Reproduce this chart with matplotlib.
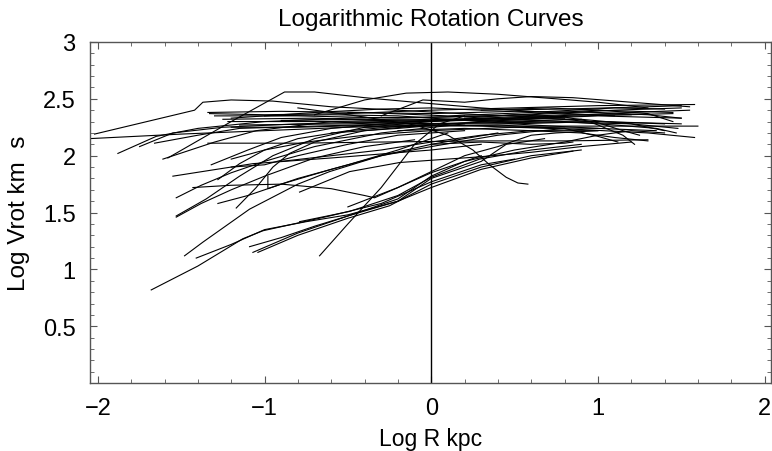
import numpy as np
import matplotlib.pyplot as plt
from matplotlib.ticker import MultipleLocator

plt.rcParams['font.family'] = ['Liberation Sans', 'DejaVu Sans']

# log R (kpc) and log Vrot (km/s) for each galaxy
curve_r = [
    [-2.02, -1.42, -1.37, -1.2, -0.95, -0.6, -0.2, 0.3, 0.8],
    [-2.05, -1.5, -1.0, -0.5, 0.0, 0.5, 1.0, 1.6],
    [-1.88, -1.65, -1.4, -1.0, -0.5, 0.0, 0.6, 1.1, 1.5],
    [-1.75, -1.55, -1.25, -0.8, -0.3, 0.3, 0.9, 1.45],
    [-1.66, -1.4, -1.15, -0.7, -0.2, 0.4, 1.0, 1.5],
    [-1.61, -1.3, -1.05, -0.6, 0.0, 0.6, 1.2, 1.48],
    [-1.58, -1.2, -0.88, -0.7, -0.4, -0.1, 0.3, 0.7, 1.1],
    [-0.7, -0.4, -0.15, 0.1, 0.4, 0.75, 1.0, 1.3],
    [-0.3, -0.05, 0.2, 0.4, 0.6, 0.85, 1.2, 1.55],
    [-1.34, -0.9, -0.4, 0.1, 0.6, 1.1, 1.4],
    [-1.3, -0.8, -0.2, 0.4, 1.0, 1.45],
    [-1.25, -0.7, -0.1, 0.5, 1.0, 1.5],
    [-1.22, -0.6, 0.0, 0.5, 1.0, 1.4],
    [-1.15, -0.5, 0.0, 0.6, 1.2, 1.55],
    [-1.2, -0.8, -0.3, 0.3, 0.9, 1.3, 1.58],
    [-1.34, -0.8, -0.3, 0.3, 0.8, 1.3],
    [-1.33, -1.0, -0.5, 0.0, 0.5, 1.0, 1.58],
    [-1.2, -0.7, -0.3, 0.0, 0.3, 0.8, 1.3, 1.5],
    [-1.0, -0.6, -0.2, 0.2, 0.6, 1.0, 1.35],
    [-0.9, -0.4, 0.0, 0.5, 0.9, 1.2, 1.4],
    [-0.8, -0.4, -0.1, 0.1, 0.25, 0.35, 0.45, 0.52, 0.58],
    [-0.6, -0.2, 0.3, 0.7, 0.95, 1.15, 1.22],
    [-0.4, 0.0, 0.4, 0.8, 1.0, 1.12],
    [0.2, 0.5, 0.8, 1.0, 1.15, 1.25],
    [-0.2, 0.2, 0.6, 0.9, 1.1, 1.3],
    [0.0, 0.4, 0.8, 1.1, 1.35, 1.47],
    [-0.5, 0.0, 0.5, 1.0, 1.3, 1.5],
    [0.3, 0.7, 1.0, 1.3, 1.45],
    [-1.32, -1.1, -0.9, -0.6, -0.2, 0.3, 0.8, 1.2],
    [-1.28, -1.15, -1.0, -0.8, -0.5, -0.1, 0.4, 0.9],
    [-1.2, -1.0, -0.75, -0.4, 0.0, 0.5, 1.0],
    [-1.55, -1.07, -0.6, 0.0, 0.3],
    [-1.43, -1.2, -0.9, -0.6, -0.4, -0.34, -0.2, 0.0, 0.3],
    [-1.53, -1.38, -1.2, -1.0, -0.7, -0.3, 0.2],
    [-1.53, -1.35, -1.15, -0.95, -0.7, -0.4, 0.0],
    [-1.48, -1.37, -1.09, -0.8, -0.61, -0.3, 0.0, 0.4],
    [-1.41, -1.2, -1.0, -0.75, -0.5, -0.2, 0.0, 0.3, 0.6, 0.85],
    [-1.68, -1.4, -1.13, -1.01, -0.61, -0.3, 0.0, 0.3, 0.5],
    [-1.09, -0.9, -0.7, -0.5, -0.2, 0.0, 0.3, 0.45, 0.55, 0.68],
    [-1.07, -0.8, -0.5, -0.2, 0.0, 0.2, 0.5, 0.8, 1.0, 1.2, 1.4],
    [-1.04, -0.8, -0.5, -0.25, 0.0, 0.3, 0.6, 0.9],
    [-0.67, -0.5, -0.3, -0.1, 0.05, 0.2],
    [-1.53, -1.38, -1.2, -1.0, -0.7, -0.4, -0.1],
    [-1.28, -1.1, -0.9, -0.6, -0.3, 0.0, 0.4, 0.8],
    [-1.17, -1.05, -0.95, -0.85, -0.7, -0.4, -0.1],
    [-0.79, -0.49, -0.2, 0.0, 0.29, 0.6, 0.9],
    [-0.79, -0.49, -0.19, 0.29, 0.6, 0.9, 1.2],
    [-0.9, -0.6, -0.3, 0.0, 0.3, 0.6, 1.0],
    [-1.2, -1.0, -0.8, -0.5, -0.2, 0.2],
    [-0.98, -0.98, -0.8, -0.5, -0.2, 0.1],
    [0.0, 0.3, 0.6, 0.8, 0.85],
    [-0.5, -0.2, 0.0, 0.2, 0.4, 0.6, 0.75, 1.0],
]
curve_v = [
    [2.19, 2.40, 2.47, 2.49, 2.48, 2.43, 2.40, 2.36, 2.33],
    [2.15, 2.19, 2.22, 2.25, 2.27, 2.26, 2.26, 2.26],
    [2.02, 2.17, 2.24, 2.30, 2.33, 2.34, 2.36, 2.40, 2.42],
    [2.08, 2.20, 2.25, 2.28, 2.30, 2.32, 2.35, 2.37],
    [2.11, 2.18, 2.24, 2.26, 2.28, 2.29, 2.30, 2.28],
    [1.97, 2.12, 2.22, 2.30, 2.32, 2.30, 2.28, 2.24],
    [1.98, 2.30, 2.56, 2.56, 2.51, 2.47, 2.42, 2.38, 2.35],
    [2.36, 2.49, 2.55, 2.56, 2.54, 2.50, 2.47, 2.42],
    [2.35, 2.49, 2.47, 2.50, 2.52, 2.51, 2.47, 2.43],
    [2.38, 2.39, 2.38, 2.35, 2.38, 2.42, 2.41],
    [2.35, 2.35, 2.33, 2.35, 2.40, 2.38],
    [2.32, 2.33, 2.30, 2.32, 2.35, 2.33],
    [2.30, 2.30, 2.28, 2.28, 2.30, 2.28],
    [2.27, 2.28, 2.30, 2.34, 2.38, 2.40],
    [2.25, 2.25, 2.27, 2.26, 2.23, 2.20, 2.16],
    [2.11, 2.11, 2.12, 2.13, 2.13, 2.14],
    [2.37, 2.36, 2.37, 2.40, 2.42, 2.44, 2.45],
    [2.33, 2.38, 2.41, 2.42, 2.40, 2.41, 2.43, 2.44],
    [2.35, 2.36, 2.35, 2.31, 2.27, 2.24, 2.22],
    [2.31, 2.32, 2.31, 2.33, 2.32, 2.28, 2.22],
    [2.42, 2.34, 2.27, 2.18, 2.05, 1.92, 1.81, 1.76, 1.75],
    [2.20, 2.24, 2.30, 2.33, 2.30, 2.18, 2.10],
    [2.25, 2.26, 2.27, 2.24, 2.17, 2.12],
    [2.33, 2.36, 2.34, 2.29, 2.22, 2.18],
    [2.22, 2.24, 2.22, 2.20, 2.16, 2.13],
    [2.32, 2.33, 2.30, 2.27, 2.24, 2.20],
    [2.38, 2.37, 2.39, 2.38, 2.36, 2.33],
    [2.40, 2.42, 2.40, 2.37, 2.30],
    [1.92, 2.05, 2.16, 2.24, 2.29, 2.33, 2.36, 2.36],
    [1.79, 1.93, 2.05, 2.15, 2.22, 2.27, 2.30, 2.32],
    [1.97, 2.05, 2.12, 2.18, 2.22, 2.25, 2.24],
    [1.82, 1.93, 1.98, 2.05, 2.10],
    [1.72, 1.74, 1.75, 1.71, 1.65, 1.63, 1.72, 1.85, 2.00],
    [1.63, 1.74, 1.85, 1.95, 2.08, 2.20, 2.28],
    [1.47, 1.62, 1.82, 2.00, 2.15, 2.25, 2.30],
    [1.12, 1.24, 1.53, 1.75, 1.86, 2.00, 2.10, 2.20],
    [1.10, 1.22, 1.35, 1.42, 1.48, 1.60, 1.72, 1.88, 1.98, 2.04],
    [0.82, 1.03, 1.27, 1.34, 1.47, 1.58, 1.77, 1.92, 1.97],
    [1.20, 1.28, 1.38, 1.47, 1.60, 1.80, 1.95, 2.10, 2.12, 2.15],
    [1.15, 1.32, 1.47, 1.62, 1.82, 1.95, 2.05, 2.12, 2.18, 2.22, 2.20],
    [1.15, 1.30, 1.45, 1.56, 1.75, 1.90, 2.00, 2.05],
    [1.12, 1.40, 1.72, 2.10, 2.28, 2.35],
    [1.46, 1.58, 1.70, 1.82, 1.98, 2.08, 2.14],
    [1.58, 1.65, 1.75, 1.88, 2.00, 2.08, 2.18, 2.24],
    [1.54, 1.72, 1.90, 2.02, 2.12, 2.22, 2.26],
    [1.42, 1.51, 1.65, 1.81, 1.97, 2.05, 2.10],
    [1.68, 1.86, 1.94, 1.99, 2.03, 2.08, 2.12],
    [1.95, 2.00, 2.05, 2.12, 2.18, 2.22, 2.22],
    [1.90, 1.92, 2.00, 2.10, 2.18, 2.22],
    [1.82, 1.71, 1.80, 1.92, 2.05, 2.20],
    [2.10, 2.12, 2.10, 2.11, 2.12],
    [1.55, 1.72, 1.86, 2.00, 2.08, 2.18, 2.20, 2.22],
]

fig = plt.figure(figsize=(7.72, 4.52), dpi=100)
ax = fig.add_axes([0.116, 0.150, 0.883, 0.755])

for r, v in zip(curve_r, curve_v):
    ax.plot(r, v, color='black', lw=0.8)

ax.axvline(0, color='black', lw=1.0)

ax.set_xlim(-2.05, 2.04)
ax.set_ylim(0, 3)
ax.set_xticks([-2, -1, 0, 1, 2])
ax.set_xticklabels(['\u22122', '\u22121', '0', '1', '2'])
ax.xaxis.set_minor_locator(MultipleLocator(0.2))
ax.set_yticks([0.5, 1, 1.5, 2, 2.5, 3])
ax.set_yticklabels(['0.5', '1', '1.5', '2', '2.5', '3'])
ax.yaxis.set_minor_locator(MultipleLocator(0.1))

frame = '#555555'
for s in ax.spines.values():
    s.set_color(frame)
    s.set_linewidth(1.0)
ax.tick_params(which='both', direction='in', top=True, right=True,
               color=frame, labelsize=17, pad=10)
ax.tick_params(which='major', length=5)
ax.tick_params(which='minor', length=3)

ax.set_xlabel('Log R kpc', fontsize=16.5, labelpad=5.5)
ax.set_ylabel('Log Vrot km  s', fontsize=17.5, labelpad=9)
ax.set_title('Logarithmic Rotation Curves', fontsize=17.5, pad=12)

fig.savefig('out.png', dpi=100)
